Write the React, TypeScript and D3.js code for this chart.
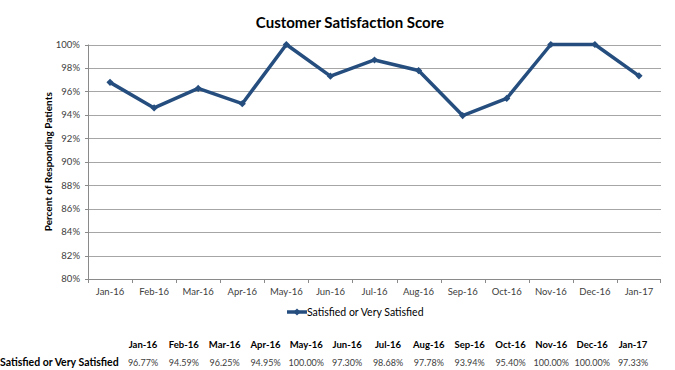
import * as d3 from "d3";

const months = [
  "Jan-16", "Feb-16", "Mar-16", "Apr-16", "May-16", "Jun-16", "Jul-16",
  "Aug-16", "Sep-16", "Oct-16", "Nov-16", "Dec-16", "Jan-17",
];
const satisfied = [
  0.9677, 0.9459, 0.9625, 0.9495, 1.0, 0.973, 0.9868, 0.9778, 0.9394, 0.954,
  1.0, 1.0, 0.9733,
];
const yTicks = [0.8, 0.82, 0.84, 0.86, 0.88, 0.9, 0.92, 0.94, 0.96, 0.98, 1.0];
const seriesName = "Satisfied or Very Satisfied";
const title = "Customer Satisfaction Score";
const yLabel = "Percent of Responding Patients";

const FONT = "Lato, 'Open Sans', sans-serif";

export default function App() {
  const width = 675;
  const height = 370;
  const plot = { left: 88, right: 661, top: 44.5, bottom: 279 };

  const x = d3.scaleBand().domain(months).range([plot.left, plot.right]);
  const y = d3.scaleLinear().domain([0.8, 1.0]).range([plot.bottom, plot.top]);
  const cx = (m: string) => (x(m) as number) + x.bandwidth() / 2;
  // data table columns under the chart
  const tx = d3.scalePoint().domain(months).range([143, 633]);

  const line = d3
    .line<number>()
    .x((_, i) => cx(months[i]))
    .y((d) => y(d));

  const pct0 = d3.format(".0%");
  const pct2 = d3.format(".2%");
  const blue = "#254E7F";

  const diamond = (px: number, py: number, r = 3.6) =>
    `M${px},${py - r}L${px + r},${py}L${px},${py + r}L${px - r},${py}Z`;

  return (
    <svg
      width={width}
      height={height}
      style={{ position: "absolute", left: 0, top: 0, background: "#fff" }}
      fontFamily={FONT}
    >
      <text
        x={350}
        y={28}
        textAnchor="middle"
        fontSize={15}
        fontWeight="bold"
        fill="#000"
      >
        {title}
      </text>

      {/* grid */}
      {yTicks.map((t) => (
        <g key={t}>
          <line
            x1={plot.left}
            x2={plot.right}
            y1={Math.round(y(t)) + 0.5}
            y2={Math.round(y(t)) + 0.5}
            stroke={t === 0.8 ? "#8a8a8a" : "#a6a6a6"}
            strokeWidth={1}
          />
          <line
            x1={plot.left - 3}
            x2={plot.left}
            y1={Math.round(y(t)) + 0.5}
            y2={Math.round(y(t)) + 0.5}
            stroke="#8a8a8a"
          />
          <text
            x={80}
            y={y(t)}
            dy="0.35em"
            textAnchor="end"
            fontSize={9.5}
            fill="#404040"
          >
            {pct0(t)}
          </text>
        </g>
      ))}
      <line
        x1={plot.left + 0.5}
        x2={plot.left + 0.5}
        y1={plot.top}
        y2={plot.bottom}
        stroke="#8a8a8a"
      />

      {/* x ticks and labels */}
      {months.map((m, i) => (
        <g key={m}>
          <line
            x1={Math.round(x(m) as number) + 0.5}
            x2={Math.round(x(m) as number) + 0.5}
            y1={plot.bottom}
            y2={plot.bottom + 4}
            stroke="#8a8a8a"
          />
          {i === months.length - 1 && (
            <line
              x1={plot.right - 0.5}
              x2={plot.right - 0.5}
              y1={plot.bottom}
              y2={plot.bottom + 4}
              stroke="#8a8a8a"
            />
          )}
          <text
            x={cx(m)}
            y={295}
            textAnchor="middle"
            fontSize={9.5}
            fill="#404040"
          >
            {m}
          </text>
        </g>
      ))}

      {/* y-axis title */}
      <text
        transform={`translate(52,${(plot.top + plot.bottom) / 2}) rotate(-90)`}
        textAnchor="middle"
        fontSize={10}
        fontWeight="bold"
        fill="#000"
      >
        {yLabel}
      </text>

      {/* series */}
      <path
        d={line(satisfied) ?? ""}
        fill="none"
        stroke={blue}
        strokeWidth={3.5}
        strokeLinejoin="round"
      />
      {satisfied.map((v, i) => (
        <path key={i} d={diamond(cx(months[i]), y(v))} fill={blue} />
      ))}

      {/* legend */}
      <line x1={287} x2={307} y1={312} y2={312} stroke={blue} strokeWidth={3.5} />
      <path d={diamond(297, 312)} fill={blue} />
      <text x={307} y={312} dy="0.35em" fontSize={10.5} fill="#000">
        {seriesName}
      </text>

      {/* data table */}
      {months.map((m, i) => (
        <g key={"t" + m}>
          <text
            x={tx(m)}
            y={348}
            textAnchor="middle"
            fontSize={9.5}
            fontWeight="bold"
            fill="#000"
          >
            {m}
          </text>
          <text
            x={tx(m)}
            y={366}
            textAnchor="middle"
            fontSize={9}
            fill="#404040"
          >
            {pct2(satisfied[i])}
          </text>
        </g>
      ))}
      <text x={0} y={366} fontSize={10.5} fontWeight="bold" fill="#000">
        {seriesName}
      </text>
    </svg>
  );
}
